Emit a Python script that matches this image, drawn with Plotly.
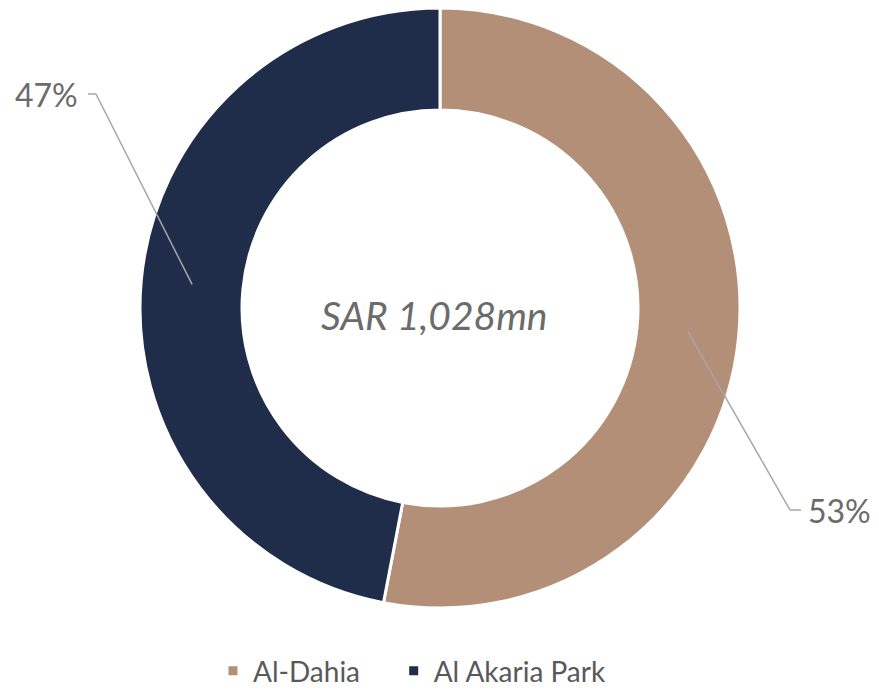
import math
import plotly.graph_objects as go

# page is 879x694 but the body has an 8px margin, so the figure is drawn 8px in
W, H = 879, 694
OFF = 8
FW, FH = W - OFF, 688

TAN = "#B38F78"
NAVY = "#1F2D4A"
GREY_TXT = "#6B6B6B"
LEADER = "#A6A6A6"

labels = ["Al-Dahia", "Al Akaria Park"]
values = [545, 483]
total_text = "SAR 1,028mn"

# pie geometry in page pixels
CX, CY, R = 440, 308, 300
HOLE = 0.66


def px(x, y):
    return (x - OFF) / FW, 1 - (y - OFF) / FH


x_lo, y_hi = px(CX - R, CY - R)
x_hi, y_lo = px(CX + R, CY + R)

# pad the first legend entry so the two entries sit further apart
legend_labels = [labels[0] + "\u00a0" * 4, labels[1]]

fig = go.Figure(go.Pie(
    labels=legend_labels,
    values=values,
    hole=HOLE,
    sort=False,
    direction="clockwise",
    rotation=0,
    textinfo="none",
    hoverinfo="label+percent",
    marker=dict(colors=[TAN, NAVY], line=dict(color="white", width=3)),
    domain=dict(x=[x_lo, x_hi], y=[y_lo, y_hi]),
))

# leader lines from middle of each ring segment to the label
total = sum(values)
elbows = [(790, 510, 801, "left"), (96, 94, 88, "right")]
shapes = []
annotations = []
start = 0
for v, (ex, ey, hx, anchor) in zip(values, elbows):
    mid = (start + v / 2) / total * 2 * math.pi
    start += v
    rm = R * (1 + HOLE) / 2
    sx = CX + rm * math.sin(mid)
    sy = CY - rm * math.cos(mid)
    x0, y0 = px(sx, sy)
    x1, y1 = px(ex, ey)
    x2, y2 = px(hx, ey)
    shapes.append(dict(type="line", xref="paper", yref="paper", x0=x0, y0=y0, x1=x1, y1=y1,
                       line=dict(color=LEADER, width=1.5)))
    shapes.append(dict(type="line", xref="paper", yref="paper", x0=x1, y0=y1, x1=x2, y1=y2,
                       line=dict(color=LEADER, width=1.5)))
    pct = round(v / total * 100)
    tx = hx + (5 if anchor == "left" else -8)
    annotations.append(dict(
        text=f"{pct}%", xref="paper", yref="paper", x=px(tx, ey)[0], y=y2,
        xanchor=anchor, yanchor="middle", showarrow=False,
        font=dict(size=32, color=GREY_TXT),
    ))

annotations.append(dict(
    text=f"<i>{total_text}</i>", xref="paper", yref="paper", x=px(CX - 6, 0)[0], y=px(0, 315)[1],
    xanchor="center", yanchor="middle", showarrow=False,
    font=dict(size=39, color=GREY_TXT),
))

fig.update_layout(
    width=FW,
    height=FH,
    paper_bgcolor="white",
    plot_bgcolor="white",
    margin=dict(l=0, r=0, t=0, b=0),
    font=dict(family="Lato, Open Sans, sans-serif", color="#595959"),
    shapes=shapes,
    annotations=annotations,
    showlegend=True,
    legend=dict(
        orientation="h",
        x=px(412, 0)[0], xanchor="center",
        y=0, yanchor="bottom",
        font=dict(size=28, color="#595959"),
        itemwidth=30,
        tracegroupgap=0,
    ),
)

fig.write_html("out.html")
